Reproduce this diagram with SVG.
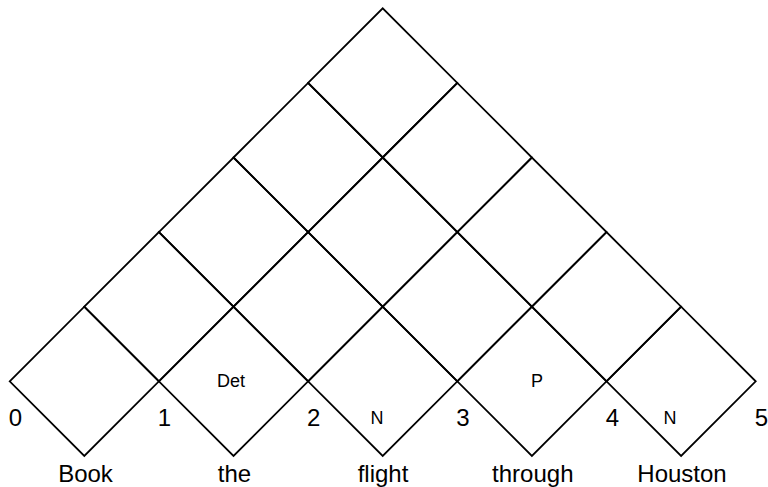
<svg xmlns="http://www.w3.org/2000/svg" width="768" height="487" viewBox="0 0 768 487">
<style>
.cell{fill:none;stroke:#000;stroke-width:1.8;stroke-linejoin:miter}
.big{font-family:"Liberation Sans",Arial,Helvetica,sans-serif;font-size:24px;fill:#000;text-anchor:middle}
.small{font-family:"Liberation Sans",Arial,Helvetica,sans-serif;font-size:18px;fill:#000;text-anchor:middle}
</style>
<rect width="768" height="487" fill="#fff"/>
<g id="chart">
<g id="cell-0-1"><polygon class="cell" points="9.7,381.3 84.3,306.7 158.9,381.3 84.3,455.9"/></g>
<g id="cell-1-2"><polygon class="cell" points="158.9,381.3 233.5,306.7 308.1,381.3 233.5,455.9"/><text class="small" x="231" y="387">Det</text></g>
<g id="cell-2-3"><polygon class="cell" points="308.1,381.3 382.7,306.7 457.3,381.3 382.7,455.9"/><text class="small" x="377" y="424">N</text></g>
<g id="cell-3-4"><polygon class="cell" points="457.3,381.3 531.9,306.7 606.5,381.3 531.9,455.9"/><text class="small" x="537" y="387">P</text></g>
<g id="cell-4-5"><polygon class="cell" points="606.5,381.3 681.1,306.7 755.7,381.3 681.1,455.9"/><text class="small" x="670" y="424">N</text></g>
<g id="cell-0-2"><polygon class="cell" points="84.3,306.7 158.9,232.1 233.5,306.7 158.9,381.3"/></g>
<g id="cell-1-3"><polygon class="cell" points="233.5,306.7 308.1,232.1 382.7,306.7 308.1,381.3"/></g>
<g id="cell-2-4"><polygon class="cell" points="382.7,306.7 457.3,232.1 531.9,306.7 457.3,381.3"/></g>
<g id="cell-3-5"><polygon class="cell" points="531.9,306.7 606.5,232.1 681.1,306.7 606.5,381.3"/></g>
<g id="cell-0-3"><polygon class="cell" points="158.9,232.1 233.5,157.5 308.1,232.1 233.5,306.7"/></g>
<g id="cell-1-4"><polygon class="cell" points="308.1,232.1 382.7,157.5 457.3,232.1 382.7,306.7"/></g>
<g id="cell-2-5"><polygon class="cell" points="457.3,232.1 531.9,157.5 606.5,232.1 531.9,306.7"/></g>
<g id="cell-0-4"><polygon class="cell" points="233.5,157.5 308.1,82.9 382.7,157.5 308.1,232.1"/></g>
<g id="cell-1-5"><polygon class="cell" points="382.7,157.5 457.3,82.9 531.9,157.5 457.3,232.1"/></g>
<g id="cell-0-5"><polygon class="cell" points="308.1,82.9 382.7,8.3 457.3,82.9 382.7,157.5"/></g>
</g>
<g id="connectors"></g>
<g id="indices">
<text class="big" x="15.5" y="426">0</text>
<text class="big" x="164.5" y="426">1</text>
<text class="big" x="313.7" y="426">2</text>
<text class="big" x="463" y="426">3</text>
<text class="big" x="612.5" y="426">4</text>
<text class="big" x="761.5" y="426">5</text>
</g>
<g id="words">
<text class="big" x="85.5" y="481.5">Book</text>
<text class="big" x="234.5" y="481.5">the</text>
<text class="big" x="383" y="481.5">flight</text>
<text class="big" x="532.8" y="481.5">through</text>
<text class="big" x="682" y="481.5">Houston</text>
</g>
</svg>
